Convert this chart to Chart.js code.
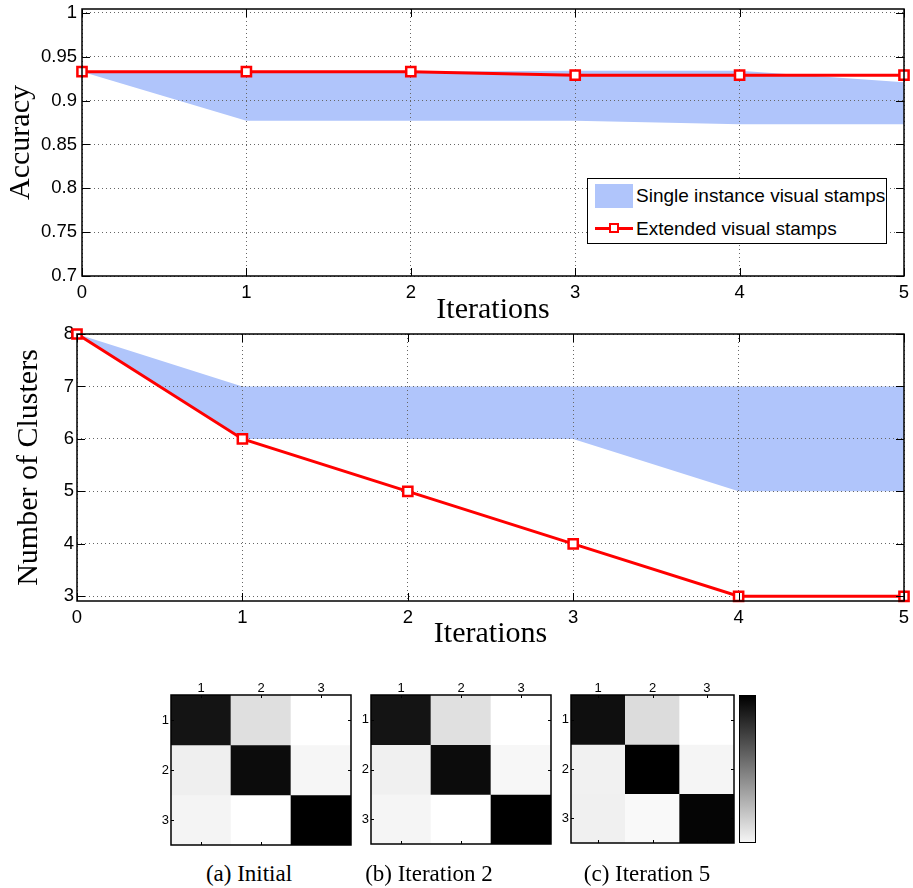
<!DOCTYPE html>
<html>
<head>
<meta charset="utf-8">
<script src="https://cdn.jsdelivr.net/npm/chart.js@4.4.1/dist/chart.umd.min.js"></script>
<style>
    html, body { margin: 0; padding: 0; background: #fff; }
    #page { position: relative; width: 913px; height: 888px; overflow: hidden; }
    .pos { position: absolute; }
    canvas { display: block; }
    #legend {
        position: absolute; left: 587px; top: 178px; width: 300px; height: 66px;
        box-sizing: border-box; border: 1px solid #000; background: #fff;
        font-family: 'Liberation Sans', Arial, sans-serif; font-size: 19px; color: #000;
    }
    .patch { position: absolute; left: 7px; top: 5px; width: 38px; height: 24px; background: #b0c5fb; }
    .lineSample { position: absolute; left: 7px; top: 48px; width: 38px; height: 3px; background: #ff0000; }
    .lineSample::after {
        content: ''; position: absolute; left: 14px; top: -4px; width: 6px; height: 6px;
        border: 2.5px solid #ff0000; background: #fff;
    }
    .legText { position: absolute; left: 48px; line-height: 22px; white-space: nowrap; }
    #colorbar {
        position: absolute; left: 739px; top: 695px; width: 17px; height: 148px;
        box-sizing: border-box; border: 1px solid #000;
        background: linear-gradient(to bottom, #000, #f5f5f5);
    }
    .caption {
        position: absolute; top: 861px; transform: translateX(-50%); white-space: nowrap;
        font-family: 'Liberation Serif', 'Times New Roman', serif; font-size: 23px; color: #000;
    }
</style>
</head>
<body>
<div id="page">
    <div class="pos" style="left:0;top:0"><canvas id="accuracyChart" width="913" height="320"></canvas></div>
    <div class="pos" style="left:0;top:320px"><canvas id="clustersChart" width="913" height="330"></canvas></div>
    <div id="legend">
        <div class="patch"></div>
        <div class="legText" style="top:6px">Single instance visual stamps</div>
        <div class="lineSample"></div>
        <div class="legText" style="top:39px">Extended visual stamps</div>
    </div>
    <div class="pos" style="left:146px;top:673px"><canvas id="heatInitial" width="209" height="176"></canvas></div>
    <div class="pos" style="left:346px;top:673px"><canvas id="heatIter2" width="209" height="175"></canvas></div>
    <div class="pos" style="left:546px;top:673px"><canvas id="heatIter5" width="192" height="174"></canvas></div>
    <div id="colorbar"></div>
    <div class="caption" style="left:249px">(a) Initial</div>
    <div class="caption" style="left:429px">(b) Iteration 2</div>
    <div class="caption" style="left:647px">(c) Iteration 5</div>
</div>

<script>
// data
const iterations = ['0', '1', '2', '3', '4', '5'];

const accTicks = [0.7, 0.75, 0.8, 0.85, 0.9, 0.95, 1];
const accSingleUpper = [0.933, 0.933, 0.933, 0.934, 0.934, 0.921];
const accSingleLower = [0.933, 0.877, 0.877, 0.877, 0.873, 0.873];
const accExtended = [0.933, 0.933, 0.933, 0.929, 0.929, 0.929];

const clusterTicks = [3, 4, 5, 6, 7, 8];
const clusterSingleUpper = [8, 7, 7, 7, 7, 7];
const clusterSingleLower = [8, 6, 6, 6, 5, 5];
const clusterExtended = [8, 6, 5, 4, 3, 3];

const heatLabels = ['1', '2', '3'];
const simInitial = [[0.92, 0.125, 0], [0.063, 0.953, 0.035], [0.043, 0, 1]];
const simIter2 = [[0.92, 0.12, 0], [0.059, 0.953, 0.031], [0.039, 0, 1]];
const simIter5 = [[0.94, 0.137, 0], [0.055, 1, 0.039], [0.059, 0.024, 0.98]];

const BAND = '#b0c5fb';
const RED = '#ff0000';
const sans = 'Liberation Sans';
const serif = 'Liberation Serif';

// box around the plot area with matlab style inner ticks
const framePlugin = {
    id: 'frame',
    afterDraw(chart, args, opts) {
        const { ctx, chartArea: a, scales } = chart;
        const len = opts.tickLen || 0;
        ctx.save();
        ctx.strokeStyle = '#000';
        ctx.lineWidth = 1;
        ctx.beginPath();
        scales.x.ticks.forEach((t, i) => {
            const x = Math.round(scales.x.getPixelForTick(i)) + 0.5;
            ctx.moveTo(x, a.bottom); ctx.lineTo(x, a.bottom - len);
            ctx.moveTo(x, a.top); ctx.lineTo(x, a.top + len);
        });
        scales.y.ticks.forEach(t => {
            const y = Math.round(scales.y.getPixelForValue(t.value)) + 0.5;
            ctx.moveTo(a.left, y); ctx.lineTo(a.left + len, y);
            ctx.moveTo(a.right, y); ctx.lineTo(a.right - len, y);
        });
        ctx.stroke();
        ctx.lineWidth = 1.5;
        ctx.strokeRect(a.left, a.top, a.right - a.left, a.bottom - a.top);
        ctx.restore();
    }
};

// fixed scale sizes so the plot area lands where it is in the figure
function fixHeight(h) {
    return s => { s.height = h; s.paddingLeft = 0; s.paddingRight = 0; };
}
function fixWidth(w) {
    return s => { s.width = w; s.paddingTop = 0; s.paddingBottom = 0; };
}

function renderLineChart(id, cfg) {
    const ctx = document.getElementById(id).getContext('2d');
    new Chart(ctx, {
        type: 'line',
        data: {
            labels: iterations,
            datasets: [
                {
                    label: 'Extended visual stamps',
                    data: cfg.extended,
                    borderColor: RED,
                    borderWidth: 3,
                    pointStyle: 'rect',
                    pointRadius: 6.5,
                    pointBorderWidth: 2.5,
                    pointBorderColor: RED,
                    pointBackgroundColor: '#fff',
                    tension: 0,
                    clip: false,
                    fill: false
                },
                {
                    label: 'Single instance visual stamps',
                    data: cfg.upper,
                    borderColor: 'rgba(0,0,0,0)',
                    borderWidth: 0,
                    pointRadius: 0,
                    backgroundColor: BAND,
                    fill: '+1'
                },
                {
                    label: 'lower',
                    data: cfg.lower,
                    borderColor: 'rgba(0,0,0,0)',
                    borderWidth: 0,
                    pointRadius: 0,
                    fill: false
                }
            ]
        },
        options: {
            responsive: false,
            animation: false,
            events: [],
            layout: { padding: cfg.padding },
            plugins: {
                legend: { display: false },
                tooltip: { enabled: false },
                filler: { drawTime: 'beforeDraw' },
                frame: { tickLen: 8 }
            },
            scales: {
                x: {
                    grid: { color: '#666', lineWidth: 1, drawTicks: false },
                    border: { display: false, dash: [1, 3] },
                    ticks: { color: '#000', font: { family: sans, size: 18.5 }, padding: cfg.xTickPad, maxRotation: 0 },
                    title: {
                        display: true, text: 'Iterations', color: '#000',
                        font: { family: serif, size: 30, lineHeight: 1 },
                        padding: { top: 0, bottom: cfg.xTitlePad }
                    },
                    afterFit: fixHeight(cfg.xHeight)
                },
                y: {
                    min: cfg.yMin,
                    max: cfg.yMax,
                    afterBuildTicks: s => { s.ticks = cfg.yTicks.map(v => ({ value: v })); },
                    grid: { color: '#666', lineWidth: 1, drawTicks: false },
                    border: { display: false, dash: [1, 3] },
                    ticks: { color: '#000', font: { family: sans, size: 18.5 }, padding: cfg.yTickPad, callback: v => String(v) },
                    title: {
                        display: true, text: cfg.yTitle, color: '#000',
                        font: { family: serif, size: 30, lineHeight: 1 },
                        padding: { top: cfg.yTitlePad, bottom: 0 }
                    },
                    afterFit: fixWidth(cfg.yWidth)
                }
            }
        },
        plugins: [framePlugin]
    });
}

function grayFor(v) {
    const g = Math.round(255 * (1 - v));
    return `rgb(${g},${g},${g})`;
}

function renderHeatmap(id, matrix) {
    const ctx = document.getElementById(id).getContext('2d');
    new Chart(ctx, {
        type: 'bar',
        data: {
            labels: heatLabels,
            datasets: matrix.map((row, r) => ({
                label: heatLabels[r],
                data: row.map(() => [r, r + 1]),
                backgroundColor: row.map(grayFor),
                borderWidth: 0,
                grouped: false,
                categoryPercentage: 1,
                barPercentage: 1
            }))
        },
        options: {
            responsive: false,
            animation: false,
            events: [],
            layout: { padding: { left: 0, top: 0, right: 4, bottom: 4 } },
            plugins: {
                legend: { display: false },
                tooltip: { enabled: false },
                frame: { tickLen: 3 }
            },
            scales: {
                x: {
                    position: 'top',
                    grid: { display: false, drawTicks: false },
                    border: { display: false },
                    ticks: { color: '#000', font: { family: sans, size: 13 }, padding: -1, maxRotation: 0 },
                    afterFit: fixHeight(22)
                },
                y: {
                    reverse: true,
                    min: 0,
                    max: 3,
                    afterBuildTicks: s => { s.ticks = heatLabels.map((l, i) => ({ value: i + 0.5 })); },
                    grid: { display: false, drawTicks: false },
                    border: { display: false },
                    ticks: { color: '#000', font: { family: sans, size: 13 }, padding: 2, callback: (v, i) => heatLabels[i] },
                    afterFit: fixWidth(25)
                }
            }
        },
        plugins: [framePlugin]
    });
}

renderLineChart('accuracyChart', {
    upper: accSingleUpper, lower: accSingleLower, extended: accExtended,
    yMin: 0.7, yMax: 1.0045, yTicks: accTicks, yTitle: 'Accuracy',
    padding: { left: 0, top: 6, right: 4, bottom: 0 },
    xHeight: 44, yWidth: 82, xTickPad: 6, yTickPad: 5, xTitlePad: -5, yTitlePad: 6
});

renderLineChart('clustersChart', {
    upper: clusterSingleUpper, lower: clusterSingleLower, extended: clusterExtended,
    yMin: 2.91, yMax: 8, yTicks: clusterTicks, yTitle: 'Number of Clusters',
    padding: { left: 0, top: 14, right: 5, bottom: 0 },
    xHeight: 49, yWidth: 77, xTickPad: 6, yTickPad: 3, xTitlePad: 1, yTitlePad: 14
});

renderHeatmap('heatInitial', simInitial);
renderHeatmap('heatIter2', simIter2);
renderHeatmap('heatIter5', simIter5);
</script>
</body>
</html>
